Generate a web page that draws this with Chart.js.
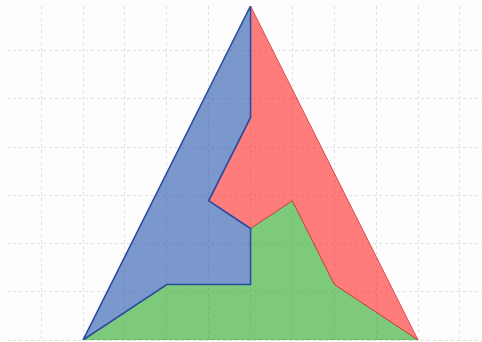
<!DOCTYPE html>
<html>
<head>
<meta charset="utf-8">
<script src="https://cdn.jsdelivr.net/npm/chart.js@4/dist/chart.umd.min.js"></script>
<style>
  html, body { margin: 0; padding: 0; background: #fdfdfd; }
  canvas { display: block; }
</style>
</head>
<body>
<canvas id="chart" width="482" height="342"></canvas>
<script>
// region outlines (x, y), each closed back to its first point
const blueX = [0.5, 0, 0.25, 0.5, 0.5, 0.375, 0.5, 0.5];
const blueY = [0.866, 0, 0.144, 0.144, 0.289, 0.361, 0.577, 0.866];

const redX = [0.5, 0.5, 0.375, 0.5, 0.625, 0.75, 1, 0.5];
const redY = [0.866, 0.577, 0.361, 0.289, 0.361, 0.144, 0, 0.866];

const greenX = [0, 0.25, 0.5, 0.5, 0.625, 0.75, 1, 0];
const greenY = [0, 0.144, 0.144, 0.289, 0.361, 0.144, 0, 0];

const toPoints = (xs, ys) => xs.map((x, i) => ({ x: x, y: ys[i] }));

const gridOpts = { color: '#e0e0e0', lineWidth: 1, drawTicks: false };
const borderOpts = { display: false, dash: [3, 3] };

new Chart(document.getElementById('chart').getContext('2d'), {
  type: 'scatter',
  data: {
    datasets: [
      {
        // blue sits on top, so its outline shows over the others
        data: toPoints(blueX, blueY),
        showLine: true,
        fill: 'shape',
        backgroundColor: 'rgba(30, 80, 170, 0.58)',
        borderColor: '#2b4c9e',
        borderWidth: 1.6,
        pointRadius: 0,
      },
      {
        data: toPoints(redX, redY),
        showLine: true,
        fill: 'shape',
        backgroundColor: 'rgba(255, 0, 0, 0.51)',
        borderColor: 'rgba(215, 50, 50, 0.8)',
        borderWidth: 1,
        pointRadius: 0,
      },
      {
        data: toPoints(greenX, greenY),
        showLine: true,
        fill: 'shape',
        backgroundColor: 'rgba(20, 160, 20, 0.55)',
        borderColor: 'rgba(60, 170, 60, 0.6)',
        borderWidth: 1,
        pointRadius: 0,
      },
    ],
  },
  options: {
    responsive: false,
    animation: false,
    layout: { padding: { left: 7, top: 6, right: 0, bottom: 2 } },
    plugins: { legend: { display: false }, tooltip: { enabled: false } },
    scales: {
      x: {
        type: 'linear',
        min: -0.227,
        max: 1.191,
        ticks: { display: false, stepSize: 0.125, includeBounds: false },
        grid: gridOpts,
        border: borderOpts,
      },
      y: {
        type: 'linear',
        min: 0,
        max: 0.866,
        ticks: { display: false, stepSize: 0.125, includeBounds: false },
        grid: gridOpts,
        border: borderOpts,
      },
    },
  },
});
</script>
</body>
</html>
